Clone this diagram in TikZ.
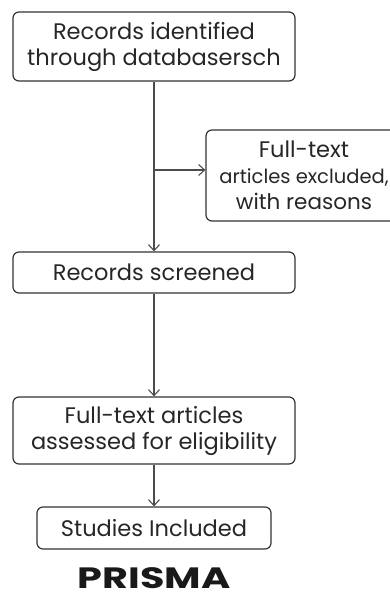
\documentclass[tikz,border=0pt]{standalone}
\usepackage{fontspec}
\setmainfont{Poppins}
\usetikzlibrary{arrows.meta}
\tikzset{
  box/.style={draw=black!80, line width=1.2pt, rounded corners=6pt, align=center, inner sep=0pt, font=\fontsize{22.5}{26}\selectfont, text=black!85},
  conn/.style={draw=black!70, line width=1.1pt, -{Straight Barb[length=6pt,width=11pt]}},
}
\begin{document}
\begin{tikzpicture}[x=1pt,y=-1pt]
\useasboundingbox (0,0) rectangle (390,599);
\begin{scope}
\clip (0,0) rectangle (390,599);
\node[box, minimum width=196pt, minimum height=91pt] (ex) at (304,175.5) {Full-text\\{\fontsize{19.5}{23}\selectfont articles excluded,}\\{\fontsize{21.5}{23}\selectfont with reasons}};
\node[box, minimum width=282pt, minimum height=69pt] (b1) at (154,46.5) {Records identified\\through databasersch};
\node[box, minimum width=282pt, minimum height=41pt] (b2) at (154,272.5) {Records screened};
\node[box, minimum width=282pt, minimum height=67pt] (b3) at (154,430.5) {Full-text articles\\assessed for eligibility};
\node[box, minimum width=234pt, minimum height=42pt] (b4) at (154,528) {Studies Included};
\end{scope}
\node[font=\fontsize{28}{32}\selectfont\bfseries, text=black!90, anchor=base, inner sep=0pt] (t) at (154,588.5) {\scalebox{1.42}[1.05]{PRISMA}};
\draw[conn] (b1.south) -- (b2.north);
\coordinate (j) at (b1.south |- 0,170);
\draw[conn] (j) -- (ex.west |- j);
\draw[conn] (b2.south) -- (b3.north);
\draw[conn] (b3.south) -- (b4.north);
\end{tikzpicture}
\end{document}
